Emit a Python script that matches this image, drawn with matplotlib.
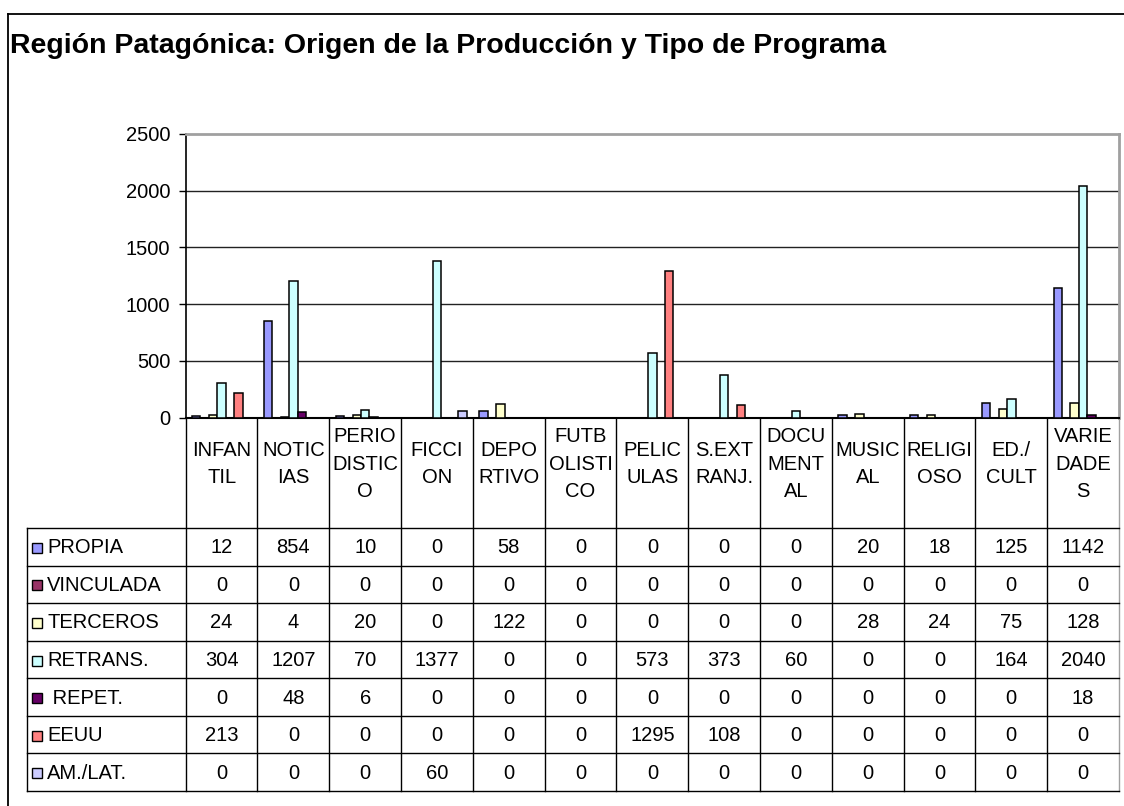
import matplotlib
matplotlib.use("Agg")
import matplotlib.pyplot as plt
from matplotlib.patches import Rectangle
import numpy as np

plt.rcParams['font.family'] = ['Liberation Sans', 'DejaVu Sans']

title = "Región Patagónica: Origen de la Producción y Tipo de Programa"
categories = ["INFAN\nTIL", "NOTIC\nIAS", "PERIO\nDISTIC\nO", "FICCI\nON", "DEPO\nRTIVO",
              "FUTB\nOLISTI\nCO", "PELIC\nULAS", "S.EXT\nRANJ.", "DOCU\nMENT\nAL",
              "MUSIC\nAL", "RELIGI\nOSO", "ED./\nCULT", "VARIE\nDADE\nS"]
series_names = ["PROPIA", "VINCULADA", "TERCEROS", "RETRANS.", " REPET.", "EEUU", "AM./LAT."]
propia = [12, 854, 10, 0, 58, 0, 0, 0, 0, 20, 18, 125, 1142]
vinculada = [0, 0, 0, 0, 0, 0, 0, 0, 0, 0, 0, 0, 0]
terceros = [24, 4, 20, 0, 122, 0, 0, 0, 0, 28, 24, 75, 128]
retrans = [304, 1207, 70, 1377, 0, 0, 573, 373, 60, 0, 0, 164, 2040]
repet = [0, 48, 6, 0, 0, 0, 0, 0, 0, 0, 0, 0, 18]
eeuu = [213, 0, 0, 0, 0, 0, 1295, 108, 0, 0, 0, 0, 0]
amlat = [0, 0, 0, 60, 0, 0, 0, 0, 0, 0, 0, 0, 0]
series_values = [propia, vinculada, terceros, retrans, repet, eeuu, amlat]
colors = ["#9999FF", "#993366", "#FFFFCC", "#CCFFFF", "#660066", "#FF8080", "#CCCCFF"]
yticks = [0, 500, 1000, 1500, 2000, 2500]

W, H = 1124, 806
fig = plt.figure(figsize=(W / 100, H / 100), dpi=100)

# layout in pixels (top-left origin)
ax_left, ax_right = 185.7, 1119.0
ax_top, ax_bottom = 134.0, 417.5
label_row_bottom = 528.0
table_bottom = 791.0
table_left = 27.0
fs = 14.5

ax = fig.add_axes([ax_left / W, 1 - ax_bottom / H, (ax_right - ax_left) / W, (ax_bottom - ax_top) / H])
ax.set_zorder(2)
n_cat = len(categories)
n_ser = len(series_values)
x = np.arange(n_cat)
bw = 1 / 8.5
for j, (vals, col) in enumerate(zip(series_values, colors)):
    ax.bar(x + (j - 3) * bw, vals, width=bw, color=col, edgecolor='black', linewidth=1.1, zorder=3)
ax.set_xlim(-0.5, n_cat - 0.5)
ax.set_ylim(0, 2500)
ax.set_yticks(yticks)
ax.set_yticklabels([str(t) for t in yticks], fontsize=fs)
ax.tick_params(axis='y', direction='out', length=5, width=1, pad=6, colors='black')
ax.set_xticks([])
for t in yticks[1:-1]:
    ax.axhline(t, color='#222222', linewidth=1.0, zorder=1)
ax.spines['top'].set_color('#a0a0a0')
ax.spines['top'].set_linewidth(2)
ax.spines['right'].set_color('#a0a0a0')
ax.spines['right'].set_linewidth(2)
ax.spines['left'].set_linewidth(1.2)
ax.spines['bottom'].set_linewidth(1.5)

# overlay in pixel coordinates
ov = fig.add_axes([0, 0, 1, 1])
ov.set_zorder(1)
ov.set_xlim(0, W)
ov.set_ylim(H, 0)
ov.axis('off')
ov.patch.set_alpha(0)

# outer frame
ov.plot([8, 8], [14, H + 5], color='black', linewidth=1.3)
ov.plot([8, W + 5], [14, 14], color='black', linewidth=1.3)

ov.text(10, 53, title, fontsize=20.5, fontweight='bold', ha='left', va='baseline')

cw = (ax_right - ax_left) / n_cat
# vertical category lines
for k in range(n_cat + 1):
    xx = ax_left + k * cw
    col = '#a0a0a0' if k == n_cat else 'black'
    ov.plot([xx, xx], [ax_bottom, table_bottom], color=col, linewidth=1.0)
ov.plot([table_left, table_left], [label_row_bottom, table_bottom], color='black', linewidth=1.0)

row_h = (table_bottom - label_row_bottom) / n_ser
for r in range(n_ser + 1):
    yy = label_row_bottom + r * row_h
    ov.plot([table_left, ax_right], [yy, yy], color='black', linewidth=1.0)

# category labels
for i, c in enumerate(categories):
    ov.text(ax_left + (i + 0.5) * cw, 464, c,
            ha='center', va='center', fontsize=fs, linespacing=1.55)

# table rows
for r, (name, vals, col) in enumerate(zip(series_names, series_values, colors)):
    yc = label_row_bottom + (r + 0.5) * row_h
    ov.add_patch(Rectangle((32, yc - 4), 10, 10, facecolor=col, edgecolor='black', linewidth=1.0))
    ov.text(47, yc + 1, name, ha='left', va='center', fontsize=fs)
    for i, v in enumerate(vals):
        ov.text(ax_left + (i + 0.5) * cw, yc + 1, str(v), ha='center', va='center', fontsize=fs)

fig.savefig("out.png", dpi=100)
